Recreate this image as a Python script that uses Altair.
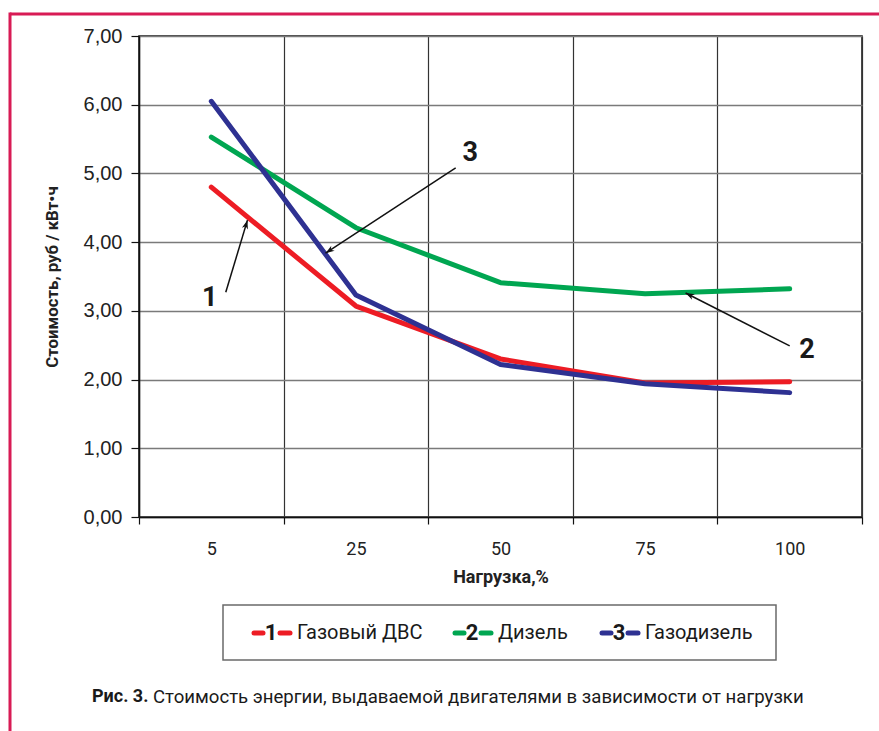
import math
import altair as alt
import pandas as pd

# Load levels (%) and energy cost (руб / кВт·ч) for the three engine types
loads = ["5", "25", "50", "75", "100"]
gas_engine = [4.80, 3.07, 2.30, 1.95, 1.97]   # 1 – Газовый ДВС
diesel = [5.53, 4.21, 3.41, 3.25, 3.32]       # 2 – Дизель
gas_diesel = [6.05, 3.23, 2.22, 1.94, 1.81]   # 3 – Газодизель

series_names = ["Газовый ДВС", "Дизель", "Газодизель"]
series_nums = ["1", "2", "3"]
series_colors = ["#ED1C24", "#00A651", "#2E3192"]

# Callout arrows: label, label position, arrow tail and tip (band units on x, cost on y)
callout_labels = ["1", "3", "2"]
callout_label_x = [0.49, 2.29, 4.62]
callout_label_y = [3.18, 5.30, 2.43]
callout_tail_x = [0.60, 2.19, 4.50]
callout_tail_y = [3.27, 5.08, 2.49]
callout_tip_x = [0.75, 1.29, 3.78]
callout_tip_y = [4.32, 3.84, 3.26]

W, H = 723, 481
X_MAX, Y_MAX = 5, 7

NARROW = "Roboto, Liberation Sans"
REGULAR = "Liberation Sans, Arial, Helvetica"

rows = []
for i, (name, vals) in enumerate(zip(series_names, [gas_engine, diesel, gas_diesel])):
    for ld, v in zip(loads, vals):
        rows.append({"load": ld, "cost": v, "series": name, "series_order": i})
df = pd.DataFrame(rows)

lines = alt.Chart(df).mark_line(strokeWidth=5, strokeCap="round", strokeJoin="round").encode(
    x=alt.X(
        "load:N",
        sort=loads,
        bandPosition=0.5,
        scale=alt.Scale(type="band", paddingInner=0, paddingOuter=0),
        axis=alt.Axis(
            title="Нагрузка,%",
            labelAngle=0,
            tickBand="extent",
            grid=True,
            gridColor="#333333",
            gridWidth=1.2,
            domainColor="#111111",
            domainWidth=1.5,
            tickColor="#111111",
            tickWidth=1.2,
            tickSize=7,
            labelFont=NARROW,
            labelFontSize=18,
            labelColor="#222222",
            labelPadding=16,
            titleFont=NARROW,
            titleFontSize=18,
            titleFontWeight="bold",
            titleColor="#222222",
            titlePadding=10,
        ),
    ),
    y=alt.Y(
        "cost:Q",
        scale=alt.Scale(domain=[0, Y_MAX], nice=False),
        axis=alt.Axis(
            title="Стоимость, руб / кВт•ч",
            values=list(range(0, 8)),
            labelExpr="replace(format(datum.value, '.2f'), '.', ',')",
            grid=True,
            gridColor="#7a7a7a",
            gridWidth=1.5,
            domainColor="#111111",
            domainWidth=1.5,
            tickColor="#111111",
            tickWidth=1.2,
            tickSize=8,
            labelFont=REGULAR,
            labelFontSize=20,
            labelColor="#222222",
            labelPadding=9,
            titleFont=NARROW,
            titleFontSize=16.8,
            titleFontWeight="bold",
            titleColor="#222222",
            titlePadding=22,
        ),
    ),
    color=alt.Color(
        "series:N",
        sort=series_names,
        scale=alt.Scale(domain=series_names, range=series_colors),
        legend=None,
    ),
    order=alt.Order("series_order:Q"),
)

# Callout arrows in band coordinates
cdf = pd.DataFrame({
    "label": callout_labels,
    "lx": callout_label_x, "ly": callout_label_y,
    "tx": callout_tail_x, "ty": callout_tail_y,
    "hx": callout_tip_x, "hy": callout_tip_y,
})
px_x, px_y = W / X_MAX, H / Y_MAX
cdf["angle"] = [
    (math.degrees(math.atan2((hx - tx) * px_x, (hy - ty) * px_y)) + 360) % 360
    for tx, ty, hx, hy in zip(cdf.tx, cdf.ty, cdf.hx, cdf.hy)
]

xq = alt.Scale(domain=[0, X_MAX], nice=False, zero=False)
yq = alt.Scale(domain=[0, Y_MAX], nice=False)

shafts = alt.Chart(cdf).mark_rule(color="#111111", strokeWidth=1.5).encode(
    x=alt.X("tx:Q", scale=xq, axis=None),
    y=alt.Y("ty:Q", scale=yq),
    x2="hx:Q",
    y2="hy:Q",
)
ARROW = "M0,0L-0.42,1.2L0,0.85L0.42,1.2Z"
heads = alt.Chart(cdf).mark_point(
    shape=ARROW, filled=True, color="#111111", opacity=1, size=220
).encode(
    x=alt.X("hx:Q", scale=xq, axis=None),
    y=alt.Y("hy:Q", scale=yq),
    angle=alt.Angle("angle:Q", scale=None),
)
callout_text = alt.Chart(cdf).mark_text(
    font=NARROW, fontSize=27, fontWeight="bold", color="#1a1a1a"
).encode(
    x=alt.X("lx:Q", scale=xq, axis=None),
    y=alt.Y("ly:Q", scale=yq),
    text="label:N",
)

annot = alt.layer(shafts, heads, callout_text)

# Page frame, legend box and caption (pixel offsets from the plot origin)
one = pd.DataFrame({"k": [0]})
frame_color = "#D81B55"
frame = alt.layer(
    alt.Chart(one).mark_rule(color=frame_color, strokeWidth=3).encode(
        x=alt.value(-129), x2=alt.value(760), y=alt.value(-22), y2=alt.value(-22)),
    alt.Chart(one).mark_rule(color=frame_color, strokeWidth=3).encode(
        x=alt.value(-129), x2=alt.value(-129), y=alt.value(-23.5), y2=alt.value(720)),
)

legend_box = alt.Chart(one).mark_rect(fill="white", stroke="#6a6a6a", strokeWidth=1.5).encode(
    x=alt.value(84), x2=alt.value(637), y=alt.value(569), y2=alt.value(624))

legend_layers = [legend_box]
entry_x = [113, 314, 461]
ly = 597
for x0, num, name, col in zip(entry_x, series_nums, series_names, series_colors):
    legend_layers.append(alt.Chart(one).mark_rule(color=col, strokeWidth=5, strokeCap="round").encode(
        x=alt.value(x0 + 2), x2=alt.value(x0 + 11), y=alt.value(ly), y2=alt.value(ly)))
    legend_layers.append(alt.Chart(one).mark_text(
        text=num, font=NARROW, fontSize=22, fontWeight="bold", color="#1a1a1a",
        align="center", baseline="middle").encode(x=alt.value(x0 + 19), y=alt.value(ly)))
    legend_layers.append(alt.Chart(one).mark_rule(color=col, strokeWidth=5, strokeCap="round").encode(
        x=alt.value(x0 + 28), x2=alt.value(x0 + 38), y=alt.value(ly), y2=alt.value(ly)))
    legend_layers.append(alt.Chart(one).mark_text(
        text=name, font=NARROW, fontSize=20, color="#1a1a1a",
        align="left", baseline="middle").encode(x=alt.value(x0 + 45), y=alt.value(ly)))

caption = alt.layer(
    alt.Chart(one).mark_text(
        text="Рис. 3.", font=NARROW, fontSize=18, fontWeight="bold", color="#1a1a1a",
        align="left", baseline="middle").encode(x=alt.value(-47), y=alt.value(661)),
    alt.Chart(one).mark_text(
        text="Стоимость энергии, выдаваемой двигателями в зависимости от нагрузки",
        font=NARROW, fontSize=18.6, color="#1a1a1a",
        align="left", baseline="middle").encode(x=alt.value(14), y=alt.value(661)),
)

chart = alt.layer(
    lines, annot, frame, *legend_layers, caption
).resolve_scale(x="independent").properties(
    width=W,
    height=H,
    autosize=alt.AutoSizeParams(type="none"),
    padding={"left": 139, "top": 36, "right": 17, "bottom": 214},
    background="white",
).configure_view(stroke="#111111", strokeWidth=1.5)

chart.save("out.html", embed_options={"renderer": "svg", "actions": False})
